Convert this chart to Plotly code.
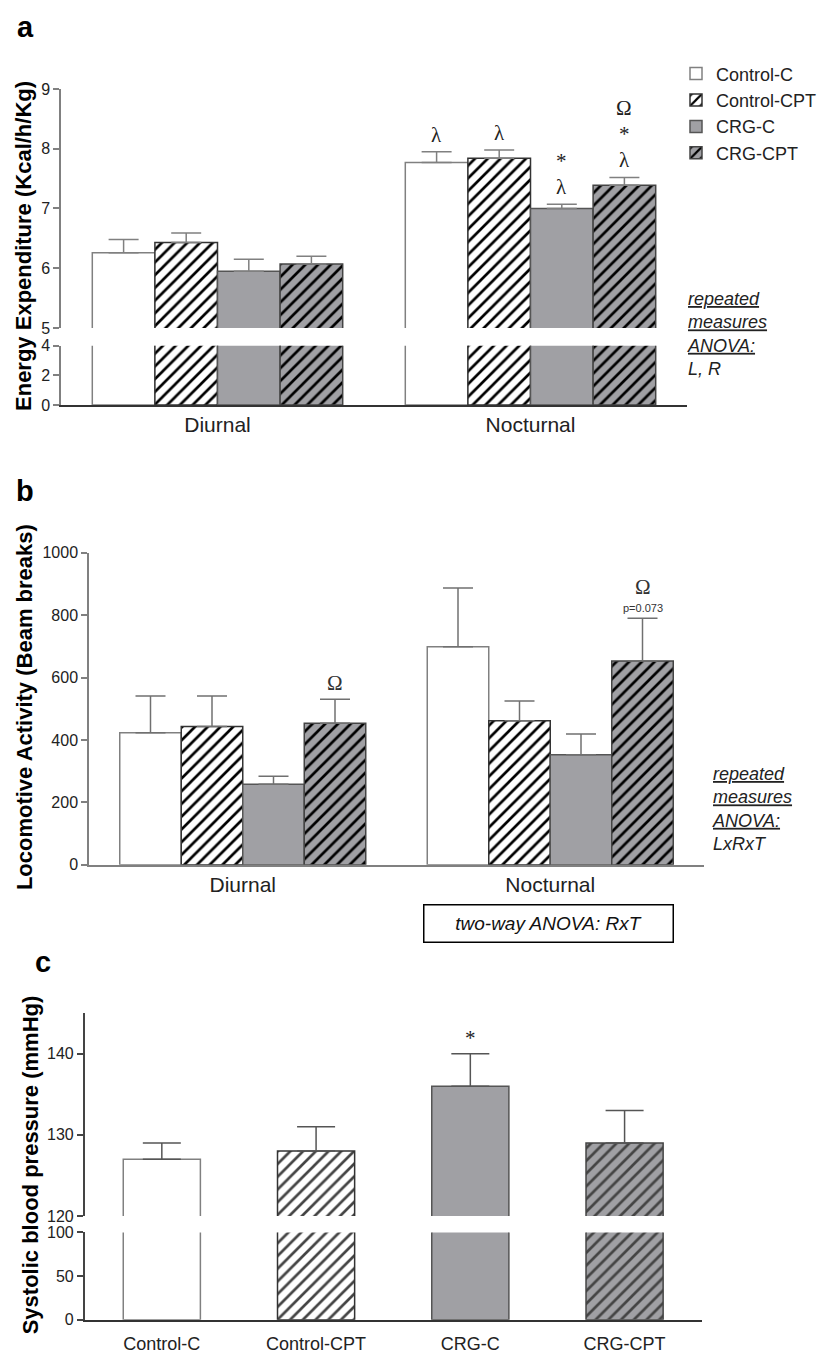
import plotly.graph_objects as go

# ---------------- data ----------------
groups = ["Control-C", "Control-CPT", "CRG-C", "CRG-CPT"]
periods = ["Diurnal", "Nocturnal"]

# panel a: energy expenditure (Kcal/h/Kg)  [diurnal, nocturnal]
ee_mean = {
    "Control-C":   [6.26, 7.77],
    "Control-CPT": [6.43, 7.84],
    "CRG-C":       [5.95, 7.00],
    "CRG-CPT":     [6.07, 7.39],
}
ee_sem = {
    "Control-C":   [0.22, 0.18],
    "Control-CPT": [0.16, 0.14],
    "CRG-C":       [0.20, 0.07],
    "CRG-CPT":     [0.13, 0.13],
}
# significance marks panel a (group, period) -> lines bottom-to-top
ee_marks = {
    ("Control-C", 1): ["λ"],
    ("Control-CPT", 1): ["λ"],
    ("CRG-C", 1): ["λ", "*"],
    ("CRG-CPT", 1): ["λ", "*", "Ω"],
}

# panel b: locomotive activity (beam breaks)
la_mean = {
    "Control-C":   [423, 699],
    "Control-CPT": [443, 462],
    "CRG-C":       [258, 353],
    "CRG-CPT":     [454, 653],
}
la_sem = {
    "Control-C":   [118, 188],
    "Control-CPT": [98, 63],
    "CRG-C":       [26, 66],
    "CRG-CPT":     [77, 137],
}
la_marks = {
    ("CRG-CPT", 0): ["Ω"],
    ("CRG-CPT", 1): ["p=0.073", "Ω"],
}

# panel c: systolic blood pressure (mmHg)
sbp_mean = [127, 128, 136, 129]
sbp_sem = [2, 3, 4, 4]
sbp_marks = {"CRG-C": ["*"]}

# ---------------- styles ----------------
GRAY = "#a0a0a4"
style = {
    "Control-C":   dict(color="white", shape="", line="#808080"),
    "Control-CPT": dict(color="white", shape="/", line="#333333"),
    "CRG-C":       dict(color=GRAY, shape="", line="#555555"),
    "CRG-CPT":     dict(color=GRAY, shape="/", line="#444444"),
}
FONT = "Arial, Liberation Sans, sans-serif"
SERIF = "Times New Roman, Liberation Serif, serif"
W, H = 829, 1356
BARGAP = 0.2
PAT = dict(size=9, solidity=0.3, fgcolor="black", fgopacity=1)


def px_x(p):
    return p / W


def px_y(p):
    return 1 - p / H


def marker_for(g):
    s = style[g]
    return dict(
        color=s["color"],
        line=dict(color=s["line"], width=1.5),
        pattern=dict(shape=s["shape"], bgcolor=s["color"], **PAT),
    )


fig = go.Figure()
xs = list(range(len(periods)))

for g in groups:
    # panel a upper segment
    fig.add_trace(go.Bar(
        x=xs, y=ee_mean[g], name=g, showlegend=True,
        xaxis="x2", yaxis="y2", marker=marker_for(g),
        error_y=dict(type="data", symmetric=False, array=ee_sem[g],
                     arrayminus=[0] * len(xs), color="#808080",
                     thickness=1.5, width=15),
    ))
    # panel a lower segment
    fig.add_trace(go.Bar(
        x=xs, y=ee_mean[g], name=g, showlegend=False,
        xaxis="x", yaxis="y", marker=marker_for(g),
    ))
    # panel b
    fig.add_trace(go.Bar(
        x=xs, y=la_mean[g], name=g, showlegend=False,
        xaxis="x3", yaxis="y3", marker=marker_for(g),
        error_y=dict(type="data", symmetric=False, array=la_sem[g],
                     arrayminus=[0] * len(xs), color="#707070",
                     thickness=1.5, width=15),
    ))

# panel c (single trace, four categories)
cx = list(range(len(groups)))
cm = dict(
    color=[style[g]["color"] for g in groups],
    line=dict(color=[style[g]["line"] for g in groups], width=1.5),
    pattern=dict(shape=[style[g]["shape"] for g in groups],
                 bgcolor=[style[g]["color"] for g in groups], **PAT),
)
fig.add_trace(go.Bar(x=cx, y=sbp_mean, width=0.5, showlegend=False,
                     xaxis="x5", yaxis="y5", marker=cm,
                     error_y=dict(type="data", symmetric=False, array=sbp_sem,
                                  arrayminus=[0] * len(cx), color="#555555",
                                  thickness=1.5, width=19)))
fig.add_trace(go.Bar(x=cx, y=sbp_mean, width=0.5, showlegend=False,
                     xaxis="x4", yaxis="y4", marker=cm))

# ---------------- annotations ----------------
ann = []
bw = (1 - BARGAP) / len(groups)


def bar_x(g, p):
    return p + (groups.index(g) - (len(groups) - 1) / 2) * bw


LINE_STEP = 26
for (g, p), lines in ee_marks.items():
    top = ee_mean[g][p] + ee_sem[g][p]
    for k, t in enumerate(lines):
        ann.append(dict(x=bar_x(g, p), y=top, xref="x2", yref="y2", text=t,
                        showarrow=False, yanchor="bottom", yshift=3 + k * LINE_STEP,
                        font=dict(family=SERIF, size=21, color="#222")))
for (g, p), lines in la_marks.items():
    top = la_mean[g][p] + la_sem[g][p]
    shift = 2
    for t in lines:
        small = t.startswith("p=")
        ann.append(dict(x=bar_x(g, p), y=top, xref="x3", yref="y3", text=t,
                        showarrow=False, yanchor="bottom", yshift=shift,
                        font=dict(family=FONT if small else SERIF,
                                  size=11 if small else 21, color="#333")))
        shift += 15 if small else 24
for g, lines in sbp_marks.items():
    i = groups.index(g)
    top = sbp_mean[i] + sbp_sem[i]
    for k, t in enumerate(lines):
        ann.append(dict(x=cx[i], y=top, xref="x5", yref="y5", text=t,
                        showarrow=False, yanchor="bottom", yshift=2 + k * 24,
                        font=dict(family=SERIF, size=21, color="#222")))

# panel letters
for t, (x, y) in {"a": (25, 19), "b": (25, 489), "c": (43, 966)}.items():
    ann.append(dict(x=px_x(x), y=px_y(y), xref="paper", yref="paper", text=f"<b>{t}</b>",
                    showarrow=False, xanchor="center", yanchor="middle",
                    font=dict(family=FONT, size=29, color="black")))

# y axis titles
for t, (x, y) in {"Energy Expenditure (Kcal/h/Kg)": (24, 241),
                  "Locomotive Activity (Beam breaks)": (24, 708),
                  "Systolic blood pressure (mmHg)": (30, 1172)}.items():
    ann.append(dict(x=px_x(x), y=px_y(y), xref="paper", yref="paper", text=f"<b>{t}</b>",
                    showarrow=False, textangle=-90, xanchor="center", yanchor="middle",
                    font=dict(family=FONT, size=22, color="black")))

# statistics notes
ann.append(dict(x=px_x(685), y=px_y(283), xref="paper", yref="paper",
                text="<i><u>repeated</u><br><u>measures</u><br><u>ANOVA:</u><br>L, R</i>",
                align="left", showarrow=False, xanchor="left", yanchor="top",
                font=dict(family=FONT, size=18, color="#222")))
ann.append(dict(x=px_x(710), y=px_y(764), xref="paper", yref="paper",
                text="<i><u>repeated</u><br><u>measures</u><br><u>ANOVA:</u><br>LxRxT</i>",
                align="left", showarrow=False, xanchor="left", yanchor="top",
                font=dict(family=FONT, size=18, color="#222")))
ann.append(dict(x=px_x(548.5), y=px_y(927), xref="paper", yref="paper",
                text="<i>two-way ANOVA: RxT</i>", showarrow=False,
                xanchor="center", yanchor="middle", width=246, height=34,
                bordercolor="black", borderwidth=1.5, borderpad=1,
                font=dict(family=FONT, size=19, color="#111")))

# ---------------- layout ----------------
tickfont = dict(family=FONT, size=16, color="#222")


def yax(dom, rng, tickvals, color):
    return dict(domain=[px_y(dom[1]), px_y(dom[0])], range=rng, tickvals=tickvals,
                showline=True, linecolor=color, linewidth=1.5, ticks="outside",
                ticklen=6, tickcolor=color, tickwidth=1.5, showgrid=False,
                zeroline=False, tickfont=tickfont, fixedrange=True)


def xax(dom, rng, tickvals, ticktext, color, size, visible=True, **kw):
    d = dict(domain=[px_x(dom[0]), px_x(dom[1])], range=rng, tickvals=tickvals,
             ticktext=ticktext, showline=visible, linecolor=color, linewidth=1.5,
             ticks="", showgrid=False, zeroline=False, showticklabels=visible,
             tickfont=dict(family=FONT, size=size, color="#222"), fixedrange=True)
    d.update(kw)
    return d


fig.update_layout(
    width=W, height=H, margin=dict(l=0, r=0, t=0, b=0),
    paper_bgcolor="white", plot_bgcolor="rgba(0,0,0,0)",
    barmode="group", bargap=BARGAP, bargroupgap=0,
    font=dict(family=FONT),
    xaxis=xax((61, 687), [-0.5, 1.5], xs, periods, "#333", 21, anchor="y"),
    yaxis=yax((342, 402), [0, 4], [0, 2, 4], "#808080") | dict(anchor="x"),
    xaxis2=xax((61, 687), [-0.5, 1.5], xs, periods, "#333", 21, visible=False,
               anchor="y2", matches="x"),
    yaxis2=yax((82, 324), [5, 9], [5, 6, 7, 8, 9], "#808080") | dict(anchor="x2"),
    xaxis3=xax((89, 704), [-0.5, 1.5], xs, periods, "#808080", 21, anchor="y3"),
    yaxis3=yax((551.7, 867.7), [0, 1000], [0, 200, 400, 600, 800, 1000], "#808080")
    | dict(anchor="x3"),
    xaxis4=xax((84.7, 701.7), [-0.5, 3.5], cx, groups, "#333", 18, anchor="y4",
               ticklabelstandoff=7),
    yaxis4=yax((1240, 1328.3), [0, 100], [0, 50, 100], "#444") | dict(anchor="x4"),
    xaxis5=xax((84.7, 701.7), [-0.5, 3.5], cx, groups, "#333", 18, visible=False,
               anchor="y5", matches="x4"),
    yaxis5=yax((1018, 1223.3), [120, 145], [120, 130, 140], "#444") | dict(anchor="x5"),
    legend=dict(x=px_x(676), y=px_y(48), xanchor="left", yanchor="top",
                font=dict(family=FONT, size=18, color="#222"),
                bgcolor="rgba(0,0,0,0)", tracegroupgap=0, itemclick=False),
    annotations=ann,
    showlegend=True,
)

fig.write_html("out.html")
